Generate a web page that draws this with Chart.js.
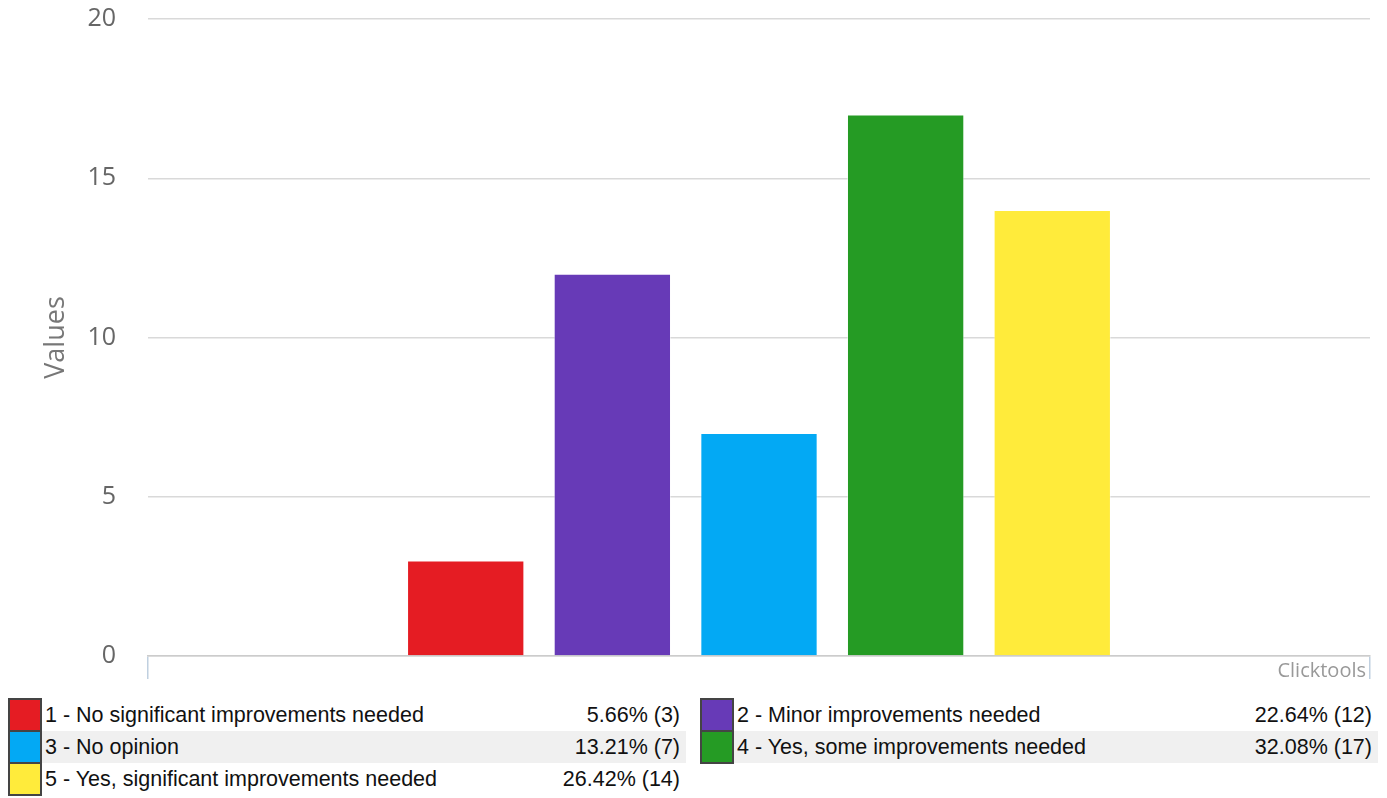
<!DOCTYPE html>
<html>
<head>
<meta charset="utf-8">
<script src="https://cdn.jsdelivr.net/npm/chart.js@4.4.1/dist/chart.umd.min.js"></script>
<style>
  html, body { margin: 0; padding: 0; background: #fff; }
  #wrap { position: relative; width: 1387px; height: 699px; }
  #legend { position: absolute; left: 0; top: 699px; width: 1387px; height: 99px;
            font-family: Arial, 'Liberation Sans', sans-serif; font-size: 21.5px; color: #111; }
  .item { position: absolute; height: 32px; width: 678px; }
  .sw { position: absolute; left: 0; top: -1px; width: 34px; height: 34px; box-sizing: border-box; border: 2px solid #444; z-index: 1; }
  .lbl { position: absolute; left: 34px; right: 0; top: 0; height: 32px; line-height: 32px; padding-left: 3px; white-space: nowrap; }
  .pct { position: absolute; right: 6px; top: 0; line-height: 32px; }
  .shade .lbl { background: #f0f0f0; }
</style>
</head>
<body>
<div id="wrap"><canvas id="chart" width="1387" height="699"></canvas></div>
<div id="legend"></div>
<script>
// Survey answers and counts
const categories = [
    '1 - No significant improvements needed',
    '2 - Minor improvements needed',
    '3 - No opinion',
    '4 - Yes, some improvements needed',
    '5 - Yes, significant improvements needed'
];
const counts = [3, 12, 7, 17, 14];
const colors = ['#e51c23', '#673ab7', '#03a9f4', '#259b24', '#ffeb3b'];
const yTicks = [0, 5, 10, 15, 20];

const total = counts.reduce((a, b) => a + b, 0);

// credit text in the bottom right corner of the plot
const creditPlugin = {
    id: 'credit',
    afterDraw(chart) {
        const { ctx, chartArea } = chart;
        ctx.save();
        ctx.font = '20px "Open Sans"';
        ctx.fillStyle = '#999';
        ctx.textAlign = 'right';
        ctx.textBaseline = 'middle';
        ctx.fillText('Clicktools', chartArea.right - 4, chartArea.bottom + 15);
        ctx.restore();
    }
};

new Chart(document.getElementById('chart'), {
    type: 'bar',
    data: {
        labels: [''],
        datasets: categories.map((c, i) => ({
            label: c,
            data: [counts[i]],
            backgroundColor: colors[i],
            borderColor: 'rgba(255,255,255,0.45)',
            borderWidth: 1,
            categoryPercentage: 0.6,
            barPercentage: 0.8
        }))
    },
    options: {
        responsive: false,
        animation: false,
        layout: { padding: { top: 19, right: 17, left: 0, bottom: 0 } },
        plugins: {
            legend: { display: false },
            tooltip: { enabled: false }
        },
        scales: {
            x: {
                ticks: { display: false },
                grid: {
                    offset: true,
                    drawOnChartArea: false,
                    drawTicks: true,
                    tickLength: 23,
                    tickColor: '#c0d0e0',
                    lineWidth: 1.5
                },
                border: { display: true, color: '#ccc', width: 1.5 },
                afterFit: (scale) => {
                    scale.height = 43;
                    scale.paddingLeft = 0;
                    scale.paddingRight = 0;
                }
            },
            y: {
                min: 0,
                max: 20,
                afterBuildTicks: (scale) => { scale.ticks = yTicks.map(v => ({ value: v })); },
                ticks: {
                    padding: 32,
                    color: '#666',
                    font: { family: "'Open Sans'", size: 25 }
                },
                grid: { color: '#d9d9d9', lineWidth: 1.5, drawTicks: false },
                border: { display: false },
                title: {
                    display: true,
                    text: 'Values',
                    color: '#777',
                    font: { family: "'Open Sans'", size: 27 },
                    padding: { top: 40, bottom: 0 }
                },
                afterFit: (scale) => {
                    scale.width = 148;
                    scale.paddingTop = 0;
                    scale.paddingBottom = 0;
                }
            }
        }
    },
    plugins: [creditPlugin]
});

// legend table below the chart
const legend = document.getElementById('legend');
categories.forEach((c, i) => {
    const col = i % 2;
    const row = Math.floor(i / 2);
    const item = document.createElement('div');
    item.className = 'item' + (row === 1 ? ' shade' : '');
    item.style.left = (col === 0 ? 8 : 700) + 'px';
    item.style.top = (row * 32) + 'px';
    const pct = (counts[i] / total * 100).toFixed(2) + '% (' + counts[i] + ')';
    item.innerHTML = '<div class="sw" style="background:' + colors[i] + '"></div>' +
        '<div class="lbl">' + c + '<span class="pct">' + pct + '</span></div>';
    legend.appendChild(item);
});
</script>
</body>
</html>
